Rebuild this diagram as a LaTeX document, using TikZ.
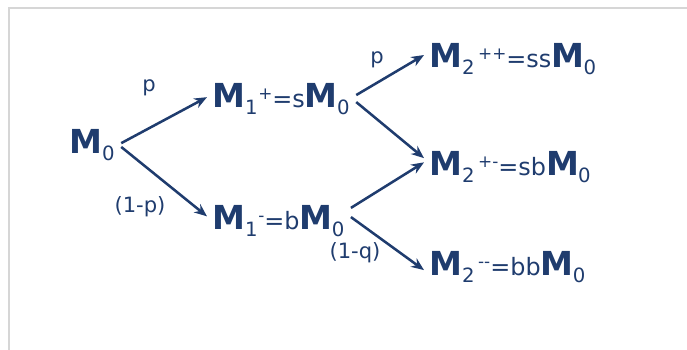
\documentclass[tikz,border=0pt]{standalone}
\usepackage{fontspec}
\setmainfont{DejaVu Sans}
\usepackage{tikz}
\usetikzlibrary{arrows.meta}
\definecolor{treenavy}{HTML}{1F3C6E}
\definecolor{framegray}{HTML}{D6D6D6}
% state label: bold M with subscript and superscript set one after the other
\newcommand{\Mst}[2]{\textbf{M}\kern-0.5pt\raisebox{-5pt}{\fontsize{14}{14}\selectfont #1}\kern0.5pt\raisebox{5pt}{\fontsize{12}{12}\selectfont #2}}
\newcommand{\Mrest}[1]{{\fontsize{17}{21}\selectfont #1}}

\begin{document}
\begin{tikzpicture}[x=0.025cm,y=-0.025cm,>={Stealth[length=3.2mm,width=2.6mm]},
  every node/.style={text=treenavy},
  state/.style={anchor=base west,inner xsep=4pt,inner ysep=0pt,font=\fontsize{23.5}{26}\selectfont},
  prob/.style={font=\fontsize{15}{17}\selectfont,inner sep=0pt},
  branch/.style={->,draw=treenavy,line width=1.8pt}]
  \useasboundingbox (0,0) rectangle (687,350);
  \draw[framegray,line width=1.1pt] (687,8) -- (9,8) -- (9,350);
  % states
  \node[state] (m0) at (64,153) {\Mst{0}{}};
  \node[state] (m1p) at (207,107) {\Mst{1}{+}\Mrest{=s}\Mst{0}{}};
  \node[state] (m1m) at (207,229) {\Mst{1}{-}\Mrest{=b}\Mst{0}{}};
  \node[state] (m2pp) at (424,67) {\Mst{2}{\,++}\Mrest{=ss}\Mst{0}{}};
  \node[state] (m2pm) at (424,175) {\Mst{2}{\,+{-}}\Mrest{=sb}\Mst{0}{}};
  \node[state] (m2mm) at (424,275) {\Mst{2}{\,{-}{-}}\Mrest{=bb}\Mst{0}{}};
  % probabilities
  \node[prob] (lp1) at (149,88) {p};
  \node[prob] (lq1) at (140,207) {(1-p)};
  \node[prob] (lp2) at (377,60) {p};
  \node[prob] (lq2) at (355,253) {(1-q)};
  % branches
  \draw[branch] ([yshift=7pt]m0.base east) -- ([yshift=7pt]m1p.base west);
  \draw[branch] ([yshift=4.3pt]m0.base east) -- ([yshift=9pt]m1m.base west);
  \draw[branch] ([yshift=8.5pt]m1p.base east) -- ([yshift=8.5pt]m2pp.base west);
  \draw[branch] ([yshift=3.5pt]m1p.base east) -- ([yshift=12pt]m2pm.base west);
  \draw[branch] ([yshift=15pt]m1m.base east) -- ([yshift=9pt]m2pm.base west);
  \draw[branch] ([yshift=8.5pt]m1m.base east) -- ([yshift=3.5pt]m2mm.base west);
\end{tikzpicture}
\end{document}
